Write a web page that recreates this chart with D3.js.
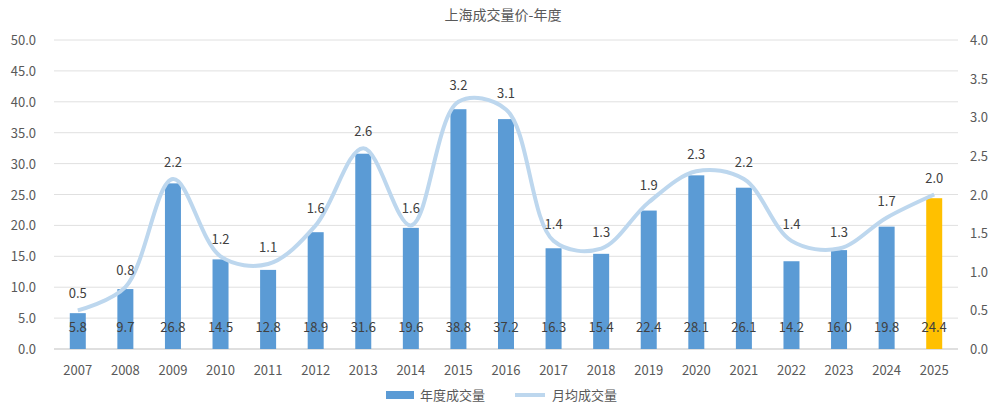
<!DOCTYPE html>
<html><head><meta charset="utf-8">
<script src="https://cdn.jsdelivr.net/npm/d3@7"></script>
<style>body{margin:0;background:#fff;font-family:"Noto Sans CJK SC","Noto Sans",sans-serif}</style>
</head><body><svg id="c" width="1006" height="406"></svg>
<script>
// chart data
const years = ["2007","2008","2009","2010","2011","2012","2013","2014","2015","2016","2017","2018","2019","2020","2021","2022","2023","2024","2025"];
const yearVolume = [5.8,9.7,26.8,14.5,12.8,18.9,31.6,19.6,38.8,37.2,16.3,15.4,22.4,28.1,26.1,14.2,16.0,19.8,24.4];
const monthVolume = [0.5,0.8,2.2,1.2,1.1,1.6,2.6,1.6,3.2,3.1,1.4,1.3,1.9,2.3,2.2,1.4,1.3,1.7,2.0];
const leftTicks = [0,5,10,15,20,25,30,35,40,45,50];
const rightTicks = [0,0.5,1,1.5,2,2.5,3,3.5,4];

const svg = d3.select("#c");
const m = {l:54, r:958, t:40, b:349};

const x = d3.scaleBand().domain(years).range([m.l, m.r]);
const yL = d3.scaleLinear().domain([0,50]).range([m.b, m.t]);
const yR = d3.scaleLinear().domain([0,4]).range([m.b, m.t]);

// title
svg.append("text").attr("x",503).attr("y",20).attr("text-anchor","middle")
  .attr("font-size",14).attr("fill","#595959").text("上海成交量价-年度");

// gridlines
svg.append("g").selectAll("line").data(leftTicks).join("line")
  .attr("x1",m.l).attr("x2",m.r).attr("y1",d=>yL(d)).attr("y2",d=>yL(d))
  .attr("stroke",d=>d===0?"#bfbfbf":"#e0e0e0");

// axes
svg.append("g").selectAll("text").data(leftTicks).join("text")
  .attr("x",36).attr("y",d=>yL(d)+5).attr("text-anchor","end")
  .attr("font-size",13).attr("fill","#595959").text(d=>d.toFixed(1));
svg.append("g").selectAll("text").data(rightTicks).join("text")
  .attr("x",970).attr("y",d=>yR(d)+5)
  .attr("font-size",13).attr("fill","#595959").text(d=>d.toFixed(1));
svg.append("g").selectAll("text").data(years).join("text")
  .attr("x",d=>x(d)+x.bandwidth()/2).attr("y",375).attr("text-anchor","middle")
  .attr("font-size",13).attr("fill","#595959").text(d=>d);

// bars
const bw = 16;
svg.append("g").selectAll("rect").data(yearVolume).join("rect")
  .attr("x",(d,i)=>x(years[i])+x.bandwidth()/2-bw/2).attr("width",bw)
  .attr("y",d=>yL(d)).attr("height",d=>m.b-yL(d))
  .attr("fill",(d,i)=>i===years.length-1?"#ffc000":"#5b9bd5");

// line
const line = d3.line().x((d,i)=>x(years[i])+x.bandwidth()/2).y(d=>yR(d))
  .curve(d3.curveCatmullRom.alpha(0.5));
svg.append("path").datum(monthVolume).attr("d",line)
  .attr("fill","none").attr("stroke","#bdd7ee").attr("stroke-width",4);

// labels
svg.append("g").selectAll("text").data(yearVolume).join("text")
  .attr("x",(d,i)=>x(years[i])+x.bandwidth()/2).attr("y",332).attr("text-anchor","middle")
  .attr("font-size",13).attr("fill","#404040").text(d=>d.toFixed(1));
svg.append("g").selectAll("text").data(monthVolume).join("text")
  .attr("x",(d,i)=>x(years[i])+x.bandwidth()/2).attr("y",d=>yR(d)-12).attr("text-anchor","middle")
  .attr("font-size",13).attr("fill","#404040").text(d=>d.toFixed(1));

// legend
const lg = svg.append("g");
lg.append("rect").attr("x",386).attr("y",391).attr("width",28).attr("height",8).attr("fill","#5b9bd5");
lg.append("text").attr("x",420).attr("y",400).attr("font-size",13).attr("fill","#595959").text("年度成交量");
lg.append("line").attr("x1",515).attr("x2",545).attr("y1",395).attr("y2",395).attr("stroke","#bdd7ee").attr("stroke-width",4);
lg.append("text").attr("x",552).attr("y",400).attr("font-size",13).attr("fill","#595959").text("月均成交量");
</script></body></html>
